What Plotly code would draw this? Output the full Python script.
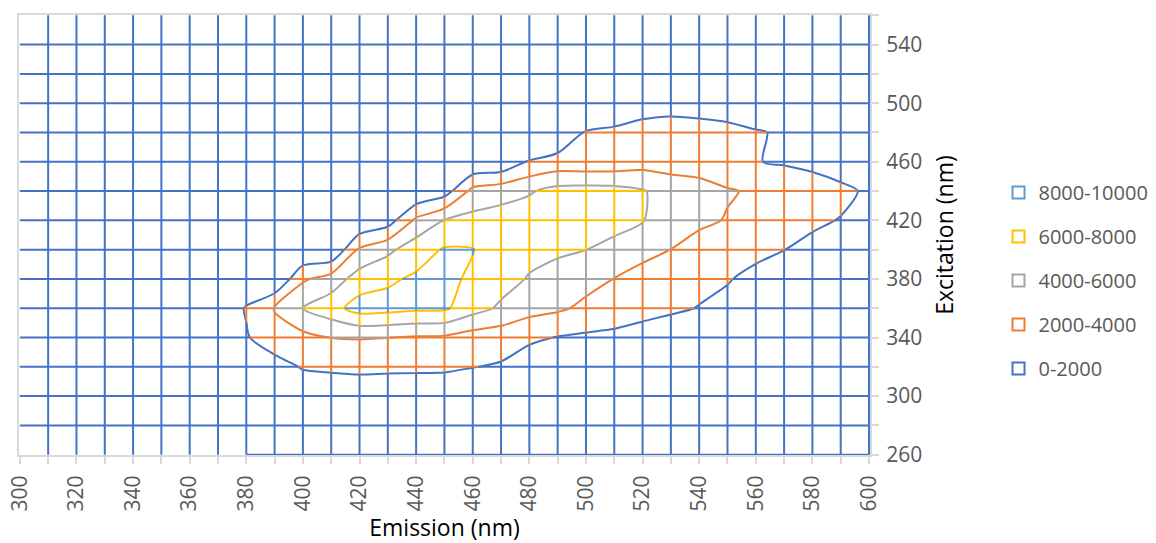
import plotly.graph_objects as go

# ---------------- data ----------------
EMISSION = list(range(300, 601, 10))      # x categories (nm)
EXCITATION = list(range(260, 561, 20))    # y series (nm)

# intensity rows, one per excitation wavelength (columns = EMISSION)
EX260 = [0, 0, 0, 0, 0, 0, 0, 0, 60, 80, 100, 100, 100, 100, 100, 100, 90, 80, 70, 60, 50, 50, 40, 40, 30, 30, 20, 20, 20, 10, 10]
EX280 = [0, 0, 0, 0, 0, 0, 0, 0, 80, 120, 180, 200, 200, 200, 200, 200, 180, 160, 120, 100, 80, 70, 60, 50, 40, 40, 30, 30, 20, 20, 10]
EX300 = [0, 0, 0, 0, 0, 0, 0, 40, 100, 200, 300, 300, 300, 300, 300, 300, 300, 300, 200, 150, 100, 90, 80, 70, 60, 50, 40, 30, 30, 20, 20]
EX320 = [0, 0, 0, 0, 0, 0, 0, 200, 600, 1000, 2190, 2425, 2600, 2500, 2450, 2400, 2050, 1800, 800, 500, 400, 300, 250, 200, 150, 120, 100, 80, 60, 50, 40]
EX340 = [0, 0, 0, 0, 0, 0, 200, 500, 1790, 3400, 3450, 4030, 4100, 4015, 3800, 3700, 3080, 2890, 2400, 1918, 1670, 1530, 1270, 900, 700, 500, 400, 300, 200, 150, 100]
EX360 = [0, 0, 0, 0, 0, 0, 0, 0, 2200, 4095, 6020, 7200, 8870, 8700, 8400, 8300, 6800, 5670, 4700, 4300, 3600, 3100, 2600, 2300, 1934, 1600, 1300, 1000, 800, 600, 400]
EX380 = [0, 0, 0, 0, 0, 0, 0, 0, 0, 0, 3700, 4900, 6900, 7700, 8300, 8600, 7600, 6800, 5848, 5300, 4600, 3968, 3400, 2900, 2450, 2100, 1574, 1300, 1000, 800, 600]
EX400 = [0, 0, 0, 0, 0, 0, 0, 0, 0, 0, 0, 0, 4300, 5550, 7100, 8171, 8100, 6850, 6600, 6300, 6020, 5400, 4500, 3985, 3400, 2900, 2400, 2020, 1400, 1000, 700]
EX420 = [0, 0, 0, 0, 0, 0, 0, 0, 0, 0, 0, 0, 0, 1013, 4417, 6050, 6600, 6900, 7100, 7200, 7000, 6700, 6100, 4850, 4300, 3910, 3300, 2700, 2400, 1900, 1500]
EX440 = [0, 0, 0, 0, 0, 0, 0, 0, 0, 0, 0, 0, 0, 0, 0, 1036, 4607, 5200, 5800, 6670, 6800, 6700, 6150, 5079, 4600, 4117, 3825, 3400, 3000, 2567, 1622]
EX460 = [0, 0, 0, 0, 0, 0, 0, 0, 0, 0, 0, 0, 0, 0, 0, 0, 0, 300, 2150, 2714, 2590, 2700, 3150, 3169, 3250, 3000, 2070, 1791, 1462, 677, 400]
EX480 = [0, 0, 0, 0, 0, 0, 0, 0, 0, 0, 0, 0, 0, 0, 0, 0, 0, 0, 0, 334, 2100, 2250, 2650, 2850, 2630, 2430, 2110, 1835, 1200, 600, 300]
EX500 = [0, 0, 0, 0, 0, 0, 0, 0, 0, 0, 0, 0, 0, 0, 0, 0, 0, 0, 0, 0, 800, 1000, 1200, 1300, 1300, 1200, 1000, 800, 600, 400, 200]
EX520 = [0, 0, 0, 0, 0, 0, 0, 0, 0, 0, 0, 0, 0, 0, 0, 0, 0, 0, 0, 0, 0, 0, 500, 600, 600, 500, 400, 300, 200, 100, 100]
EX540 = [0, 0, 0, 0, 0, 0, 0, 0, 0, 0, 0, 0, 0, 0, 0, 0, 0, 0, 0, 0, 0, 0, 0, 0, 200, 250, 200, 150, 100, 50, 50]
EX560 = [0, 0, 0, 0, 0, 0, 0, 0, 0, 0, 0, 0, 0, 0, 0, 0, 0, 0, 0, 0, 0, 0, 0, 0, 0, 0, 0, 0, 0, 0, 0]

Z = [EX260, EX280, EX300, EX320, EX340, EX360, EX380, EX400,
     EX420, EX440, EX460, EX480, EX500, EX520, EX540, EX560]

LEVELS = [2000, 4000, 6000, 8000]
BAND_NAMES = ["0-2000", "2000-4000", "4000-6000", "6000-8000", "8000-10000"]
BAND_COLORS = ["#4472C4", "#ED7D31", "#A5A5A5", "#FFC000", "#5B9BD5"]
BOTTOM_ROW_FROM = 380          # first emission with data in the 260 nm row

X_TICKS = list(range(300, 601, 20))
Y_TICKS = list(range(260, 541, 40))


# ---------------- wireframe mesh coloured by band ----------------
def band_of(v):
    return sum(1 for L in LEVELS if v >= L)


def pieces(a0, a1, z0, z1):
    ts = [0.0, 1.0]
    for L in LEVELS:
        if (z0 - L) * (z1 - L) < 0:
            ts.append((L - z0) / (z1 - z0))
    ts.sort()
    out = []
    for t0, t1 in zip(ts[:-1], ts[1:]):
        if t1 - t0 <= 1e-12:
            continue
        zm = z0 + (z1 - z0) * (t0 + t1) / 2
        out.append([a0 + (a1 - a0) * t0, a0 + (a1 - a0) * t1, band_of(zm)])
    return out


def add_runs(runs, s, e, b):
    if runs and runs[-1][2] == b and abs(runs[-1][1] - s) < 1e-9:
        runs[-1][1] = e
    else:
        runs.append([s, e, b])


mesh_x = [[] for _ in BAND_COLORS]
mesh_y = [[] for _ in BAND_COLORS]

# rows (horizontal lines), top row is the plot border
for j in range(len(EXCITATION) - 1):
    start = EMISSION.index(BOTTOM_ROW_FROM) if j == 0 else 0
    runs = []
    for i in range(start, len(EMISSION) - 1):
        for s, e, b in pieces(EMISSION[i], EMISSION[i + 1], Z[j][i], Z[j][i + 1]):
            add_runs(runs, s, e, b)
    for s, e, b in runs:
        mesh_x[b] += [s, e, None]
        mesh_y[b] += [EXCITATION[j], EXCITATION[j], None]

# columns (vertical lines), first column is the plot border
for i in range(1, len(EMISSION)):
    runs = []
    for j in range(len(EXCITATION) - 1):
        for s, e, b in pieces(EXCITATION[j], EXCITATION[j + 1], Z[j][i], Z[j + 1][i]):
            add_runs(runs, s, e, b)
    for s, e, b in runs:
        mesh_x[b] += [EMISSION[i], EMISSION[i], None]
        mesh_y[b] += [s, e, None]

fig = go.Figure()

for b, c in enumerate(BAND_COLORS):
    fig.add_trace(go.Scatter(x=mesh_x[b], y=mesh_y[b], mode="lines",
                             line=dict(color=c, width=2), hoverinfo="skip",
                             showlegend=False))

# contour boundaries
for L, c in zip(LEVELS, BAND_COLORS[:4]):
    fig.add_trace(go.Contour(
        x=EMISSION, y=EXCITATION, z=Z, autocontour=False,
        contours=dict(start=L, end=L + 1, size=2000, coloring="lines", showlabels=False),
        colorscale=[[0, c], [1, c]], showscale=False,
        line=dict(width=2, smoothing=0.8), hoverinfo="skip", showlegend=False))

# legend entries (top to bottom: highest band first)
for k, b in enumerate(reversed(range(len(BAND_NAMES)))):
    fig.add_trace(go.Scatter(
        x=[None], y=[None], mode="markers", name=BAND_NAMES[b],
        legendgroup=f"g{k}",
        marker=dict(symbol="square-open", size=13, color=BAND_COLORS[b],
                    line=dict(width=2, color=BAND_COLORS[b]))))

axis_common = dict(
    showgrid=False, zeroline=False, showline=True, mirror=True,
    linecolor="#D9D9D9", linewidth=2, layer="below traces", automargin=False,
    ticks="outside", ticklen=7, tickcolor="#D9D9D9", tickwidth=1.5,
    ticklabelstandoff=3, ticklabeloverflow="allow",
    tickfont=dict(size=21, color="#595959"),
)

# the page body adds an 8 px offset, so the figure is 8 px smaller
fig.update_layout(
    width=1148, height=535,
    margin=dict(l=11, r=286, t=7, b=88, autoexpand=False),
    plot_bgcolor="white", paper_bgcolor="white",
    font=dict(family="Open Sans", color="#595959"),
    xaxis=dict(range=[299.7, 600.35], tickvals=X_TICKS,
               ticktext=[str(v) for v in X_TICKS], tickangle=-90,
               minor=dict(dtick=10, tick0=300, ticks="outside", ticklen=7,
                          tickcolor="#D9D9D9", tickwidth=1.5),
               title=dict(text="Emission (nm)", standoff=6,
                          font=dict(size=23, color="#000000")),
               **axis_common),
    yaxis=dict(range=[259.8, 560.2], side="right", tickvals=Y_TICKS,
               ticktext=[str(v) for v in Y_TICKS],
               minor=dict(dtick=20, tick0=260, ticks="outside", ticklen=7,
                          tickcolor="#D9D9D9", tickwidth=1.5),
               title=dict(text="Excitation (nm)", standoff=16,
                          font=dict(size=23, color="#000000")),
               **axis_common),
    legend=dict(x=1.151, xanchor="left", y=0.641, yanchor="top",
                font=dict(size=20, color="#595959"),
                tracegroupgap=15, itemsizing="constant"),
)

fig.write_html("out.html")
